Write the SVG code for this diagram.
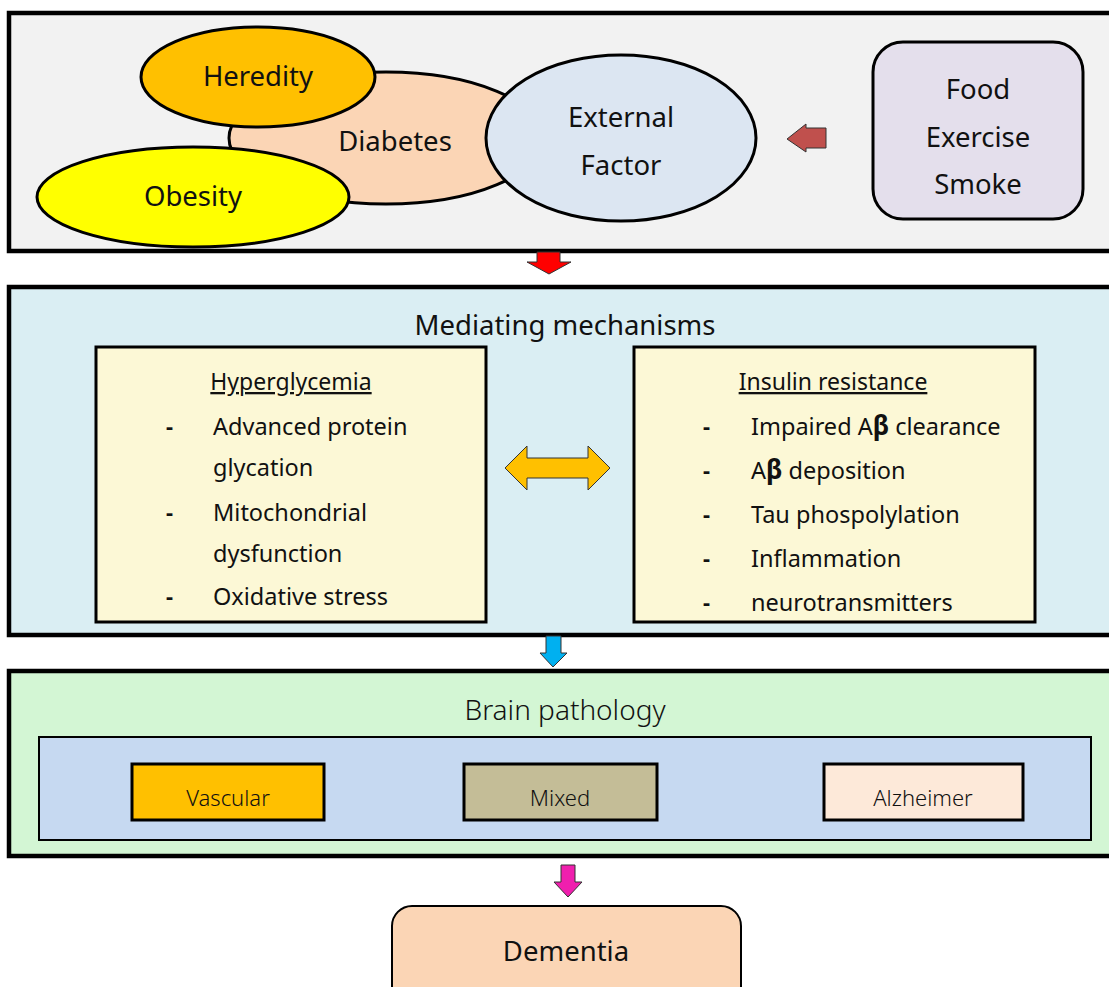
<svg xmlns="http://www.w3.org/2000/svg" width="1109" height="987" viewBox="0 0 1109 987">
<style>
text{font-family:"Noto Sans","Open Sans","Liberation Sans",sans-serif;fill:#111;}
.frame{stroke:#000;stroke-width:4.5;}
.shape{stroke:#000;stroke-width:3;}
.big{font-size:27.5px;text-anchor:middle;}
.item{font-size:23.5px;}
.head{font-size:23px;text-anchor:middle;text-decoration:underline;}
.dash{font-size:22px;font-weight:bold;}
.cat{font-size:22px;text-anchor:middle;font-weight:300;}
.arr{stroke:#333;stroke-width:1;}
</style>
<rect x="0" y="0" width="1109" height="987" fill="#ffffff"/>
<g id="risk-factors">
<rect class="frame" x="9" y="13" width="1110" height="238" fill="#f2f2f2"/>
</g>
<g id="diabetes">
<ellipse class="shape" cx="386" cy="138" rx="157" ry="66" fill="#fbd5b5"/>
<text class="big" x="395" y="151">Diabetes</text>
</g>
<g id="heredity">
<ellipse class="shape" cx="258" cy="77" rx="117" ry="50" fill="#ffc000"/>
<text class="big" x="258" y="86">Heredity</text>
</g>
<g id="obesity">
<ellipse class="shape" cx="193" cy="197" rx="156" ry="50" fill="#ffff00"/>
<text class="big" x="193" y="206">Obesity</text>
</g>
<g id="external-factor">
<ellipse class="shape" cx="621" cy="138" rx="135" ry="83" fill="#dce6f2"/>
<text class="big" x="621" y="127">External</text>
<text class="big" x="621" y="175">Factor</text>
</g>
<g id="lifestyle">
<rect class="shape" x="873" y="42" width="210" height="177" rx="30" fill="#e4dfec"/>
<text class="big" x="978" y="99">Food</text>
<text class="big" x="978" y="147">Exercise</text>
<text class="big" x="978" y="194">Smoke</text>
</g>
<g id="mediating">
<rect class="frame" x="9" y="287" width="1110" height="348" fill="#daeef3"/>
<text class="big" x="565" y="335">Mediating mechanisms</text>
</g>
<g id="hyperglycemia">
<rect class="shape" x="96" y="347" width="390" height="275" fill="#fcf8d6"/>
<text class="head" x="291" y="390">Hyperglycemia</text>
<text class="dash" x="166" y="434">-</text>
<text class="item" x="213" y="435">Advanced protein</text>
<text class="item" x="213" y="476">glycation</text>
<text class="dash" x="166" y="520">-</text>
<text class="item" x="213" y="521">Mitochondrial</text>
<text class="item" x="213" y="562">dysfunction</text>
<text class="dash" x="166" y="604">-</text>
<text class="item" x="213" y="605">Oxidative stress</text>
</g>
<g id="insulin-resistance">
<rect class="shape" x="634" y="347" width="401" height="275" fill="#fcf8d6"/>
<text class="head" x="833" y="390">Insulin resistance</text>
<text class="dash" x="703" y="434">-</text>
<text class="item" x="751" y="435">Impaired A<tspan font-weight="bold" font-size="26">β</tspan> clearance</text>
<text class="dash" x="703" y="478">-</text>
<text class="item" x="751" y="479">A<tspan font-weight="bold" font-size="26">β</tspan> deposition</text>
<text class="dash" x="703" y="522">-</text>
<text class="item" x="751" y="523">Tau phospolylation</text>
<text class="dash" x="703" y="566">-</text>
<text class="item" x="751" y="567">Inflammation</text>
<text class="dash" x="703" y="610">-</text>
<text class="item" x="751" y="611">neurotransmitters</text>
</g>
<g id="brain-pathology">
<rect class="frame" x="9" y="671" width="1110" height="185" fill="#d3f6d4"/>
<text x="565" y="720" font-size="28" text-anchor="middle" font-weight="300">Brain pathology</text>
<rect x="39" y="737" width="1052" height="103" fill="#c6d9f1" stroke="#000" stroke-width="2"/>
</g>
<g id="vascular">
<rect class="shape" x="132" y="764" width="192" height="56" fill="#ffc000"/>
<text class="cat" x="228" y="806">Vascular</text>
</g>
<g id="mixed">
<rect class="shape" x="464" y="764" width="193" height="56" fill="#c4bd97"/>
<text class="cat" x="560" y="806">Mixed</text>
</g>
<g id="alzheimer">
<rect class="shape" x="824" y="764" width="199" height="56" fill="#fde9d9"/>
<text class="cat" x="923" y="806">Alzheimer</text>
</g>
<g id="dementia">
<rect x="392" y="906" width="349" height="100" rx="20" fill="#fbd5b5" stroke="#000" stroke-width="2"/>
<text class="big" x="566" y="961">Dementia</text>
</g>
<g id="connectors">
<polygon class="arr" points="826,128 806,128 806,124 787,139 806,152 806,148 826,148" fill="#c0504d"/>
<polygon class="arr" points="537,252 560,252 560,262 571,262 549,274 527,262 537,262" fill="#ff0000"/>
<polygon class="arr" points="505,468 527,446 527,458 588,458 588,446 610,468 588,490 588,478 527,478 527,490" fill="#ffc000"/>
<polygon class="arr" points="546,636 561,636 561,653 567,653 553,667 540,653 546,653" fill="#00b0f0"/>
<polygon class="arr" points="561,865 575,865 575,882 582,882 568,897 554,882 561,882" fill="#f01fae"/>
</g>
</svg>
